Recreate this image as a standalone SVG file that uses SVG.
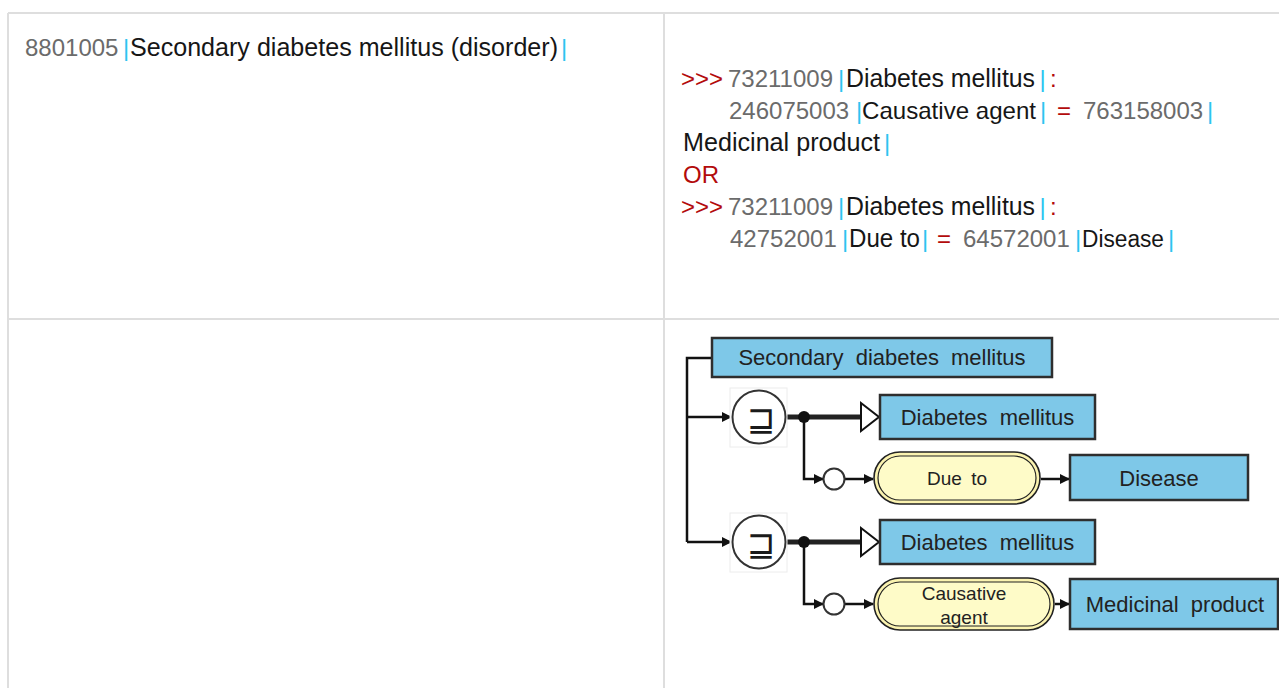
<svg xmlns="http://www.w3.org/2000/svg" width="1279" height="688" viewBox="0 0 1279 688">
<defs>
<style>
.t{font-family:"Liberation Sans",Arial,sans-serif;font-size:24px}
.g{fill:#6b6b6b}.k{fill:#161616;font-size:25px}.r{fill:#b30b0b}.c{fill:#2ec4f0}
.grid{stroke:#dedede;stroke-width:2;fill:none}
.box{fill:#7ec8e8;stroke:#2e2e2e;stroke-width:2.5}
.bt{font-family:"Liberation Sans",Arial,sans-serif;font-size:22px;fill:#222;text-anchor:middle;word-spacing:6px}
.pt{font-family:"Liberation Sans",Arial,sans-serif;font-size:19px;fill:#222;text-anchor:middle;word-spacing:4px}
.po{fill:#fbf3b0;stroke:#222;stroke-width:1.6}
.pi{fill:#fefbc8;stroke:#222;stroke-width:1.2}
.ln{stroke:#111;stroke-width:2.5;fill:none}
.thick{stroke:#222;stroke-width:5;fill:none}
.op{fill:#fff;stroke:#333;stroke-width:2}
.sym{font-family:"DejaVu Sans",sans-serif;font-size:34px;fill:#1a1a1a;text-anchor:middle}
</style>
<marker id="ah" markerWidth="10" markerHeight="10" refX="9" refY="5" orient="auto" markerUnits="userSpaceOnUse">
<path d="M0,0 L10,5 L0,10 Z" fill="#111"/>
</marker>
</defs>
<rect width="1279" height="688" fill="#fff"/>
<g id="table">
<path class="grid" d="M8,13 H1279 M8,319 H1279 M8,13 V688 M664,13 V688"/>
</g>
<g id="left-text" class="t">
<text x="25" y="56" class="g">8801005</text>
<text x="123" y="56" class="c">|</text>
<text x="130" y="56" class="k" textLength="428" lengthAdjust="spacingAndGlyphs">Secondary diabetes mellitus (disorder)</text>
<text x="561" y="56" class="c">|</text>
</g>
<g id="right-text" class="t">
<text x="681" y="87" class="r">&gt;&gt;&gt;</text>
<text x="728" y="87" class="g">73211009</text>
<text x="838" y="87" class="c">|</text>
<text x="846" y="87" class="k" textLength="189" lengthAdjust="spacingAndGlyphs">Diabetes mellitus</text>
<text x="1039.5" y="87" class="c">|</text>
<text x="1050" y="87" class="r">:</text>
<text x="729" y="119" class="g">246075003</text>
<text x="856" y="119" class="c">|</text>
<text x="862" y="119" class="k" style="font-size:24px" textLength="174" lengthAdjust="spacingAndGlyphs">Causative agent</text>
<text x="1040" y="119" class="c">|</text>
<text x="1057" y="119" class="r">=</text>
<text x="1083" y="119" class="g">763158003</text>
<text x="1207" y="119" class="c">|</text>
<text x="683" y="151" class="k" textLength="197" lengthAdjust="spacingAndGlyphs">Medicinal product</text>
<text x="884" y="151" class="c">|</text>
<text x="683" y="183" class="r">OR</text>
<text x="681" y="215" class="r">&gt;&gt;&gt;</text>
<text x="728" y="215" class="g">73211009</text>
<text x="838" y="215" class="c">|</text>
<text x="846" y="215" class="k" textLength="189" lengthAdjust="spacingAndGlyphs">Diabetes mellitus</text>
<text x="1039.5" y="215" class="c">|</text>
<text x="1050" y="215" class="r">:</text>
<text x="730" y="247" class="g">42752001</text>
<text x="842" y="247" class="c">|</text>
<text x="849" y="247" class="k" textLength="71" lengthAdjust="spacingAndGlyphs">Due to</text>
<text x="922" y="247" class="c">|</text>
<text x="937" y="247" class="r">=</text>
<text x="963" y="247" class="g">64572001</text>
<text x="1075" y="247" class="c">|</text>
<text x="1082" y="247" class="k" style="font-size:23px" textLength="82" lengthAdjust="spacingAndGlyphs">Disease</text>
<text x="1168" y="247" class="c">|</text>
</g>
<g id="connectors">
<path class="ln" d="M712,358 H687 V542"/>
<path class="ln" d="M687,417 H731" marker-end="url(#ah)"/>
<path class="ln" d="M687,542 H731" marker-end="url(#ah)"/>
<path class="thick" d="M786,417 H861"/>
<path class="thick" d="M786,542 H861"/>
<path class="ln" d="M804,417 V479 H823" marker-end="url(#ah)"/>
<path class="ln" d="M804,542 V604 H823" marker-end="url(#ah)"/>
<path class="ln" d="M845,479 H873" marker-end="url(#ah)"/>
<path class="ln" d="M845,604 H873" marker-end="url(#ah)"/>
<path class="ln" d="M1041,479 H1069" marker-end="url(#ah)"/>
<path class="ln" d="M1055,604 H1069" marker-end="url(#ah)"/>
<circle cx="804" cy="417" r="6" fill="#111"/>
<circle cx="804" cy="542" r="6" fill="#111"/>
<path d="M861,403 L861,431 L879,417 Z" fill="#fff" stroke="#111" stroke-width="2"/>
<path d="M861,528 L861,556 L879,542 Z" fill="#fff" stroke="#111" stroke-width="2"/>
</g>
<g id="n-secondary">
<rect class="box" x="712" y="338" width="340" height="39"/>
<text class="bt" x="882" y="365">Secondary diabetes mellitus</text>
</g>
<g id="op1">
<rect x="730" y="388" width="57" height="59" fill="#fff" stroke="#ececec" stroke-width="1"/>
<circle class="op" cx="759" cy="417" r="26.5"/>
<text class="sym" x="761" y="431">⊒</text>
</g>
<g id="n-dm1">
<rect class="box" x="880" y="395" width="215" height="44"/>
<text class="bt" x="987.5" y="425">Diabetes mellitus</text>
</g>
<g id="g1"><circle class="op" cx="834" cy="479" r="10.5" stroke="#111"/></g>
<g id="n-dueto">
<rect class="po" x="874" y="452" width="166" height="52" rx="26"/>
<rect class="pi" x="878" y="456" width="158" height="44" rx="22"/>
<text class="pt" x="957" y="485">Due to</text>
</g>
<g id="n-disease">
<rect class="box" x="1070" y="455" width="178" height="45"/>
<text class="bt" x="1159" y="486">Disease</text>
</g>
<g id="op2">
<rect x="730" y="513" width="57" height="59" fill="#fff" stroke="#ececec" stroke-width="1"/>
<circle class="op" cx="759" cy="542" r="26.5"/>
<text class="sym" x="761" y="556">⊒</text>
</g>
<g id="n-dm2">
<rect class="box" x="880" y="520" width="215" height="44"/>
<text class="bt" x="987.5" y="550">Diabetes mellitus</text>
</g>
<g id="g2"><circle class="op" cx="834" cy="604" r="10.5" stroke="#111"/></g>
<g id="n-causative">
<rect class="po" x="874" y="578" width="180" height="52" rx="26"/>
<rect class="pi" x="878" y="582" width="172" height="44" rx="22"/>
<text class="pt" x="964" y="600">Causative</text>
<text class="pt" x="964" y="624">agent</text>
</g>
<g id="n-medicinal">
<rect class="box" x="1070" y="579" width="208" height="50"/>
<text class="bt" x="1175" y="612">Medicinal product</text>
</g>
</svg>
